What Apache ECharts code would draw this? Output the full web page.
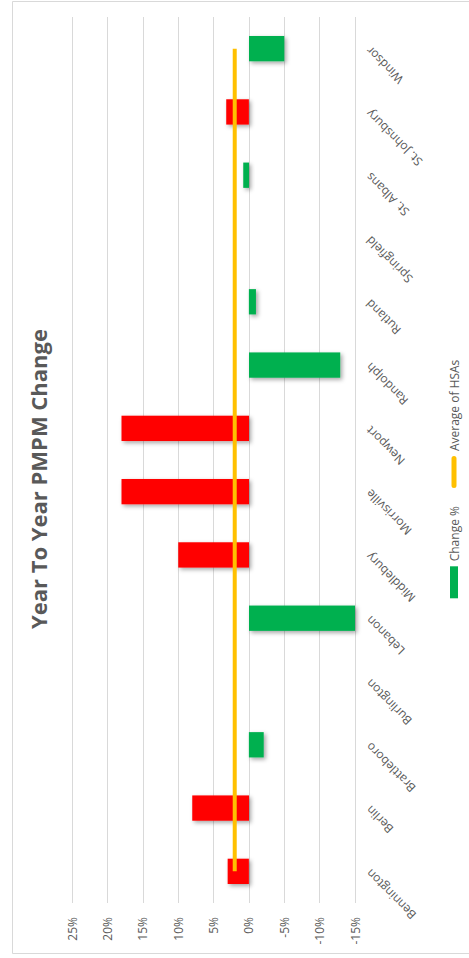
<!DOCTYPE html>
<html>
<head>
<meta charset="utf-8">
<script src="https://cdn.jsdelivr.net/npm/echarts@6/dist/echarts.min.js"></script>
<style>
  html, body { margin: 0; padding: 0; background: #fff; overflow: hidden; width: 469px; height: 958px; }
  /* The column chart is laid out landscape and turned a quarter turn counter-clockwise. */
  #stage {
    position: absolute; left: 0; top: 0;
    width: 958px; height: 469px;
    transform-origin: 0 0;
    transform: translate(0, 958px) rotate(-90deg);
  }
</style>
</head>
<body>
<div id="stage"></div>
<script>
// Health service areas, year-to-year PMPM change (%)
const categories = ['Bennington', 'Berlin', 'Brattleboro', 'Burlington', 'Lebanon', 'Middlebury',
  'Morrisville', 'Newport', 'Randolph', 'Rutland', 'Springfield', 'St. Albans', 'St. Johnsbury', 'Windsor'];
const changePct = [3.0, 8.0, -2.1, 0, -15.0, 10.0, 18.0, 18.0, -12.9, -1.0, 0, 0.8, 3.2, -5.0];
const hsaAverage = [2.0, 2.0, 2.0, 2.0, 2.0, 2.0, 2.0, 2.0, 2.0, 2.0, 2.0, 2.0, 2.0, 2.0];
const valueTicks = [-15, -10, -5, 0, 5, 10, 15, 20, 25];

const FONT = '"Open Sans", "Noto Sans", sans-serif';
const TEXT = '#595959';
const GRID = '#D9D9D9';
const RED = '#FF0000';
const GREEN = '#00B050';
const GOLD = '#FFC000';
const FLAG_ABOVE = 1; // increases above this are flagged red

// rounded stroke used as the legend key of the average line
const LINE_KEY = 'path://M2.5,0 L29.5,0 A2.5,2.5 0 0 1 29.5,5 L2.5,5 A2.5,2.5 0 0 1 2.5,0 Z';

const chart = echarts.init(document.getElementById('stage'), null, { renderer: 'svg', width: 958, height: 469 });

chart.setOption({
  animation: false,
  backgroundColor: '#fff',
  textStyle: { fontFamily: FONT },
  title: {
    text: 'Year To Year PMPM Change',
    left: 'center',
    top: 22,
    textStyle: { fontFamily: FONT, fontSize: 22, fontWeight: 'bold', color: TEXT }
  },
  graphic: [{
    type: 'rect',
    silent: true,
    shape: { x: 4.5, y: 12.5, width: 952, height: 470 },
    style: { fill: 'none', stroke: GRID, lineWidth: 1 }
  }],
  legend: {
    left: 'center',
    top: 443,
    itemWidth: 32,
    itemHeight: 8,
    itemGap: 18,
    symbolKeepAspect: true,
    textStyle: { fontFamily: FONT, fontSize: 12, color: TEXT },
    data: [
      { name: 'Change %', icon: 'rect', itemStyle: { color: GREEN } },
      { name: 'Average of HSAs', icon: LINE_KEY, itemStyle: { color: GOLD } }
    ]
  },
  grid: { left: 55, right: 17, top: 72, bottom: 114 },
  xAxis: {
    type: 'category',
    data: categories,
    boundaryGap: true,
    axisLine: { show: false, onZero: false },
    axisTick: { show: false },
    axisLabel: { interval: 0, rotate: 45, margin: 13, fontFamily: FONT, fontSize: 12, color: TEXT }
  },
  yAxis: {
    type: 'value',
    min: valueTicks[0],
    max: valueTicks[valueTicks.length - 1],
    interval: valueTicks[1] - valueTicks[0],
    axisLine: { show: false },
    axisTick: { show: false },
    splitLine: { lineStyle: { color: GRID, width: 1 } },
    axisLabel: { margin: 14, fontFamily: FONT, fontSize: 12, color: TEXT, formatter: v => v + '%' }
  },
  series: [
    {
      name: 'Change %',
      type: 'bar',
      data: changePct,
      barWidth: '40%',
      color: GREEN,
      itemStyle: {
        color: p => (p.value > FLAG_ABOVE ? RED : GREEN),
        shadowColor: 'rgba(0,0,0,0.35)',
        shadowBlur: 4,
        shadowOffsetX: -2,
        shadowOffsetY: 2
      },
      z: 2
    },
    {
      name: 'Average of HSAs',
      type: 'line',
      data: hsaAverage,
      symbol: 'none',
      color: GOLD,
      lineStyle: { color: GOLD, width: 4 },
      z: 3
    }
  ]
});
</script>
</body>
</html>
